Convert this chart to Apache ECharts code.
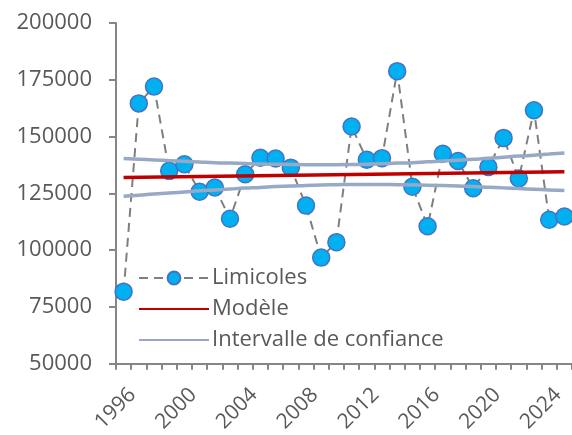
<!DOCTYPE html>
<html>
<head>
<meta charset="utf-8">
<script src="https://cdn.jsdelivr.net/npm/echarts@6/dist/echarts.min.js"></script>
<style>
  html, body { margin: 0; padding: 0; background: #fff; }
  #chart { width: 572px; height: 435px; }
</style>
</head>
<body>
<div id="chart"></div>
<script>
// années
const years = ['1996','1997','1998','1999','2000','2001','2002','2003','2004','2005',
  '2006','2007','2008','2009','2010','2011','2012','2013','2014','2015',
  '2016','2017','2018','2019','2020','2021','2022','2023','2024','2025'];

// effectifs limicoles
const limicoles = [81700, 164600, 172000, 134900, 137800, 125700, 127600, 113800, 133400, 140700,
  140300, 136300, 119600, 96700, 103500, 154400, 139800, 140500, 178800, 127900,
  110500, 142400, 139200, 127200, 136600, 149400, 131500, 161600, 113400, 114800];

// modèle : droite entre les deux extrémités
const modeleStart = 132000;
const modeleEnd = 134500;

// intervalle de confiance (bornes haute et basse)
const icHaut = [140300, 140000, 139700, 139400, 139100, 138800, 138500, 138300, 138100, 137900,
  137800, 137700, 137600, 137600, 137600, 137700, 137800, 138000, 138300, 138500,
  138900, 139200, 139600, 140000, 140400, 140900, 141400, 141800, 142300, 142800];
const icBas = [123700, 124200, 124700, 125100, 125600, 126100, 126500, 126900, 127300, 127600,
  128000, 128200, 128500, 128700, 128800, 128900, 128900, 128900, 128800, 128700,
  128600, 128400, 128200, 128000, 127700, 127400, 127100, 126800, 126500, 126200];

const modele = years.map((y, i) => i === 0 ? modeleStart : (i === years.length - 1 ? modeleEnd : null));

const font = 'Open Sans';
const grey = '#595959';
const axisColor = '#868686';
const icColor = '#97A9C5';

const myChart = echarts.init(document.getElementById('chart'), null, { renderer: 'canvas' });

const option = {
  animation: false,
  grid: { left: 116, top: 23, width: 457, height: 344 },
  legend: {
    orient: 'vertical',
    left: 133,
    top: 262,
    itemWidth: 70,
    itemHeight: 16,
    itemGap: 9,
    data: [
      { name: 'Limicoles' },
      { name: 'Modèle', itemStyle: { opacity: 0 } },
      { name: 'Intervalle de confiance', itemStyle: { opacity: 0 } }
    ],
    textStyle: { fontFamily: font, fontSize: 22, color: grey, padding: [0, 0, 0, -2] }
  },
  xAxis: {
    type: 'category',
    data: years,
    boundaryGap: true,
    axisLine: { lineStyle: { color: axisColor, width: 2 } },
    axisTick: { show: true, interval: 0, length: 6, lineStyle: { color: axisColor, width: 2 } },
    axisLabel: {
      interval: 3,
      rotate: 45,
      margin: 19,
      formatter: (v) => '{a|' + v + '}',
      rich: {
        a: { fontFamily: font, fontSize: 21, color: grey, lineHeight: 46, verticalAlign: 'bottom' }
      },
      fontFamily: font,
      fontSize: 21,
      color: grey
    },
    splitLine: { show: false }
  },
  yAxis: {
    type: 'value',
    min: 50000,
    max: 200000,
    interval: 25000,
    axisLine: { show: true, lineStyle: { color: axisColor, width: 2 } },
    axisTick: { show: true, length: 7, lineStyle: { color: axisColor, width: 2 } },
    axisLabel: { margin: 24, fontFamily: font, fontSize: 22, color: grey, formatter: (v) => String(v) },
    splitLine: { show: false }
  },
  series: [
    {
      name: 'Limicoles',
      type: 'line',
      data: limicoles,
      symbol: 'circle',
      symbolSize: 17,
      showAllSymbol: true,
      itemStyle: { color: '#00B0F0', borderColor: '#4472C4', borderWidth: 1.5 },
      lineStyle: { color: '#7F7F7F', width: 2, type: [9, 6] },
      z: 2
    },
    {
      name: 'Modèle',
      type: 'line',
      data: modele,
      connectNulls: true,
      showSymbol: false,
      symbol: 'none',
      itemStyle: { color: '#C00000' },
      lineStyle: { color: '#C00000', width: 3.5 },
      z: 3
    },
    {
      name: 'Intervalle de confiance',
      type: 'line',
      data: icHaut,
      smooth: true,
      showSymbol: false,
      symbol: 'none',
      itemStyle: { color: icColor },
      lineStyle: { color: icColor, width: 3.5 },
      z: 4
    },
    {
      name: 'Intervalle de confiance',
      type: 'line',
      data: icBas,
      smooth: true,
      showSymbol: false,
      symbol: 'none',
      itemStyle: { color: icColor },
      lineStyle: { color: icColor, width: 3.5 },
      z: 4
    }
  ]
};

myChart.setOption(option);
window.onresize = function () {
  myChart.resize();
};
</script>
</body>
</html>
